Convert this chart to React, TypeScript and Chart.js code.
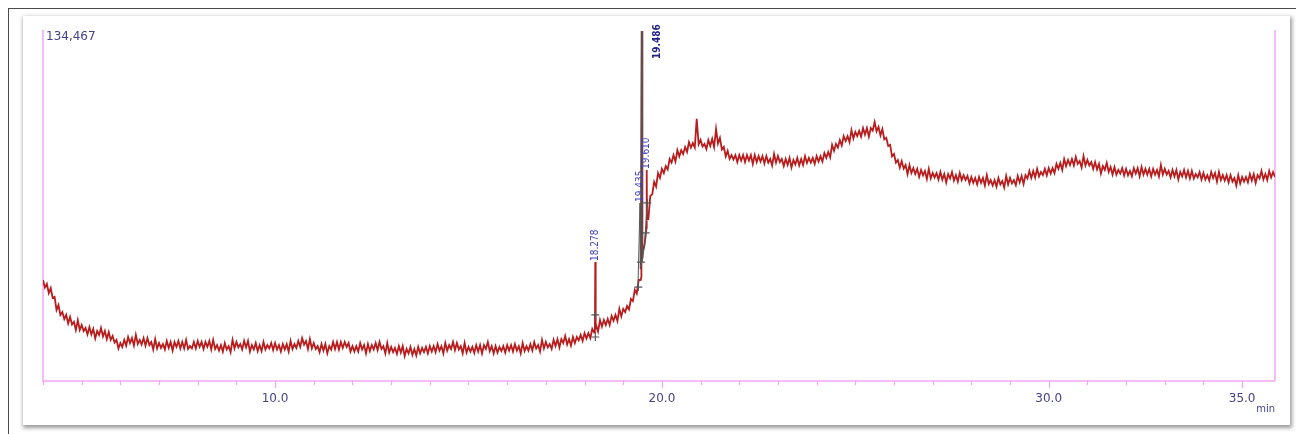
import React, { useEffect, useRef } from "react";
import { Chart, registerables } from "chart.js";

Chart.register(...registerables);

// ---- axis ranges ----
const X_MIN = 4.0;
const X_MAX = 35.85;
const Y_MIN = 0;
const Y_MAX = 134467;
const xTickValues = [4, 5, 6, 7, 8, 9, 10, 11, 12, 13, 14, 15, 16, 17, 18, 19, 20, 21, 22, 23, 24, 25, 26, 27, 28, 29, 30, 31, 32, 33, 34, 35];
const majorTickValues = [10, 20, 30, 35];
const xUnitLabel = "min";

// ---- detector trace, samples every 0.1 min from 4.00 min ----
const TRACE_START_MIN = 4.0;
const TRACE_STEP_MIN = 0.1;
const traceSignal = [
  // 4.0 - 5.9
  38800, 37300, 35700, 32300, 29200, 26500, 25400, 24600, 22700, 23400, 21500, 20400, 20700, 20000, 19200, 20400, 19200, 18800, 17300, 15800,
  // 6.0 - 7.9
  14600, 15800, 16900, 16500, 17700, 15800, 16500, 16500, 15000, 16100, 14600, 14200, 15400, 15000, 15000, 15400, 15000, 15800, 13400, 15000,
  // 8.0 - 9.9
  15400, 15000, 15000, 15400, 15800, 13800, 13800, 14600, 13400, 15800, 15000, 14200, 15400, 15400, 13800, 14600, 13800, 15000, 13800, 14600,
  // 10.0 - 11.9
  14600, 13800, 14200, 14200, 15400, 14200, 15400, 16500, 15400, 16100, 14600, 13400, 14200, 14200, 13400, 15000, 15000, 15000, 15000, 14600,
  // 12.0 - 13.9
  13400, 13400, 14600, 13800, 14200, 13800, 14600, 15000, 13400, 14600, 13100, 12700, 13400, 13400, 12300, 13100, 12300, 13100, 12700, 13100,
  // 14.0 - 15.9
  13400, 13400, 14200, 13400, 14600, 13800, 15000, 14600, 13400, 14600, 13100, 13100, 13800, 13800, 13800, 15000, 13400, 13400, 13100, 13400,
  // 16.0 - 17.9
  13800, 13800, 14200, 13400, 14600, 13400, 14200, 15000, 13800, 15800, 15000, 14200, 15800, 16100, 16100, 17300, 16100, 16900, 16900, 17700,
  // 18.0 - 19.4
  18400, 18400, 20000, 21500, 23400, 23400, 23800, 25000, 25400, 27700, 27700, 28800, 31500, 35000, 38800,
  // 19.5 - 19.9
  49600, 58800, 71100, 76500, 79900,
  // 20.0 - 21.9
  81500, 82600, 85300, 86800, 88700, 88700, 89900, 91800, 91400, 100700, 92600, 91100, 92600, 93000, 96800, 93400, 89900, 88400, 86800, 86800,
  // 22.0 - 23.9
  86800, 86800, 86800, 86800, 86800, 86400, 86400, 86400, 85300, 87200, 86400, 85300, 85300, 85700, 84900, 85700, 85300, 86400, 85700, 85700,
  // 24.0 - 25.9
  86400, 86400, 87600, 88000, 90700, 91100, 92600, 94100, 94100, 96400, 95700, 96100, 97200, 97200, 97200, 99500, 97600, 96800, 93400, 90700,
  // 26.0 - 27.9
  87200, 84900, 84500, 83000, 83000, 81800, 81500, 81100, 80700, 81500, 79900, 79900, 80300, 79500, 79500, 80300, 79100, 79900, 79100, 78800,
  // 28.0 - 29.9
  78400, 78000, 78400, 78000, 79100, 77200, 77200, 78000, 76800, 78800, 78000, 77200, 78800, 78800, 79100, 80700, 80700, 81500, 80300, 81500,
  // 30.0 - 31.9
  81800, 81800, 83400, 83800, 85300, 84900, 85300, 86100, 84500, 86400, 84900, 84100, 84100, 83400, 82600, 83800, 82200, 82200, 81100, 81800,
  // 32.0 - 33.9
  81500, 80700, 81800, 81800, 82200, 81500, 81500, 81500, 81100, 83000, 81500, 80700, 81100, 81100, 80300, 81100, 80700, 80700, 79500, 80300,
  // 34.0 - 35.8
  79900, 79100, 80300, 79900, 80300, 79100, 79100, 79100, 78000, 79100, 78400, 78400, 79500, 79500, 79100, 80700, 79500, 80700, 80300,
];

// ---- interleaved samples, every 0.1 min from 4.05 min ----
const TRACE_OFFSET_START_MIN = 4.05;
const traceSignalOffset = [
  // 4.05 - 5.95
  35900, 33800, 31900, 27300, 25400, 23800, 22100, 21700, 19600, 19600, 19200, 17900, 17900, 16300, 17700, 17100, 16100, 15800, 14800, 12500,
  // 6.05 - 7.95
  13100, 13600, 14600, 13600, 14200, 14000, 13600, 13800, 12100, 12500, 12700, 12100, 12700, 11700, 13100, 12500, 12500, 12300, 12500, 12500,
  // 8.05 - 9.95
  13100, 12300, 13100, 12100, 12300, 11700, 11300, 12100, 11100, 12500, 12900, 12100, 12900, 11300, 12100, 11500, 11500, 12100, 12500, 11900,
  // 10.05 - 11.95
  12100, 11300, 12100, 11300, 12300, 12700, 13100, 14000, 12300, 12500, 12300, 11100, 11700, 10600, 12100, 12300, 12100, 12700, 13100, 11300,
  // 12.05 - 13.95
  11300, 11300, 12100, 10600, 11500, 12100, 11900, 12300, 10600, 10900, 11100, 10400, 10900, 9600, 10600, 10000, 9800, 10600, 11100, 10600,
  // 14.05 - 15.95
  11300, 11100, 11700, 10600, 11700, 12300, 11900, 12100, 10600, 10900, 11300, 10800, 11300, 10600, 12300, 11500, 10600, 10900, 11500, 10900,
  // 16.05 - 17.95
  11700, 11300, 11700, 10600, 11500, 11700, 11700, 12500, 11300, 12500, 12900, 12300, 13400, 12900, 14600, 14000, 13600, 14600, 15600, 15400,
  // 18.05 - 19.45
  16300, 16500, 18600, 19000, 20900, 21500, 21500, 23200, 23100, 24800, 26500, 27500, 30700, 33600, 38800,
  // 19.55 - 19.95
  52100, 62200, 71700, 74700, 78000,
  // 20.05 - 21.95
  79900, 81300, 83900, 84300, 86300, 87200, 88000, 89700, 89700, 90900, 90100, 89100, 90300, 89900, 91200, 88900, 86300, 85300, 85100, 84100,
  // 22.05 - 23.95
  84700, 84100, 84700, 83400, 84100, 84300, 83600, 83900, 82800, 83900, 84100, 82600, 83000, 82000, 83200, 82800, 83000, 83800, 83900, 83400,
  // 24.05 - 25.95
  84300, 84300, 85700, 85900, 88400, 89700, 90500, 92200, 91800, 93200, 94100, 93900, 94700, 93900, 96200, 95900, 94300, 92800, 90300, 86300,
  // 26.05 - 27.95
  83900, 82000, 81600, 79500, 79900, 79500, 78400, 79000, 77600, 77800, 78200, 77400, 77400, 76300, 77800, 77000, 76600, 77200, 77200, 75900,
  // 28.05 - 29.95
  76100, 75500, 76100, 75100, 75700, 75100, 74700, 75500, 74300, 75500, 75900, 75300, 76300, 75700, 77800, 78000, 78200, 78600, 79100, 79000,
  // 30.05 - 31.95
  79700, 79900, 81500, 81100, 82600, 83000, 82800, 83400, 82000, 82800, 82800, 81500, 81300, 79700, 81100, 80300, 79300, 79300, 79700, 79000,
  // 32.05 - 33.95
  79000, 78600, 79700, 78600, 79300, 79300, 78600, 79300, 78600, 79300, 79300, 78200, 78600, 77400, 78600, 78200, 77800, 77800, 78200, 77400,
  // 34.05 - 35.85
  77400, 77000, 78000, 76600, 77200, 77000, 76300, 76600, 75100, 75900, 76600, 76300, 77000, 76100, 77800, 77400, 77200, 78200, 78400,
];

// ---- narrow peaks riding on the trace ----
const spikeTimes = [18.268, 18.278, 18.288, 19.47, 19.486, 19.492, 19.605, 19.61, 19.615];
const spikeSignal = [19000, 45700, 19800, 40000, 200000, 47000, 60000, 81100, 62000];

// ---- integrated peak outline (dark) ----
const overlayTimes = [19.38, 19.435, 19.445, 19.486, 19.49, 19.55, 19.62];
const overlaySignal = [35500, 68400, 43000, 200000, 46000, 52000, 68400];

// ---- peak start / end markers ----
const markerTimes = [18.278, 18.278, 19.39, 19.46, 19.58, 19.62];
const markerSignal = [25400, 16900, 36100, 45700, 56900, 68400];

// ---- peak labels ----
const peakTimes = [18.278, 19.435, 19.486, 19.61];
const peakApex = [45700, 68400, 200000, 81100];

const PINK = "#f3a6f3";
const NAVY = "#43438a";

function buildTrace() {
  const pts: { x: number; y: number }[] = [];
  traceSignal.forEach((v, i) =>
    pts.push({ x: Math.round((TRACE_START_MIN + i * TRACE_STEP_MIN) * 1000) / 1000, y: v })
  );
  traceSignalOffset.forEach((v, i) =>
    pts.push({ x: Math.round((TRACE_OFFSET_START_MIN + i * TRACE_STEP_MIN) * 1000) / 1000, y: v })
  );
  spikeTimes.forEach((t, i) => pts.push({ x: t, y: spikeSignal[i] }));
  pts.sort((a, b) => a.x - b.x);
  return pts;
}

const decorPlugin = {
  id: "decor",
  beforeDatasetsDraw(chart: any) {
    const { ctx, chartArea } = chart;
    const xs = chart.scales.x;
    const { left, right, top, bottom } = chartArea;
    ctx.save();
    ctx.strokeStyle = PINK;
    ctx.lineWidth = 1.5;
    ctx.beginPath();
    ctx.moveTo(left, top - 1);
    ctx.lineTo(left, bottom);
    ctx.lineTo(right, bottom);
    ctx.moveTo(right, top - 1);
    ctx.lineTo(right, bottom);
    ctx.stroke();
    ctx.lineWidth = 1.2;
    xs.ticks.forEach((tk: any) => {
      const v = tk.value;
      const px = Math.round(xs.getPixelForValue(v)) + 0.5;
      const len = majorTickValues.includes(v) ? 7 : 4;
      ctx.beginPath();
      ctx.moveTo(px, bottom);
      ctx.lineTo(px, bottom + len);
      ctx.stroke();
    });
    ctx.restore();
  },
  afterDatasetsDraw(chart: any) {
    const { ctx, chartArea } = chart;
    const xs = chart.scales.x;
    const ys = chart.scales.y;
    ctx.save();
    ctx.fillStyle = NAVY;
    ctx.font = '12px "DejaVu Sans", sans-serif';
    ctx.textAlign = "left";
    ctx.textBaseline = "middle";
    ctx.fillText(ys.max.toLocaleString("en-US"), chartArea.left + 3, chartArea.top + 6);
    ctx.font = '10px "DejaVu Sans", sans-serif';
    ctx.textAlign = "right";
    ctx.fillText(xUnitLabel, chartArea.right, chartArea.bottom + 28);
    peakTimes.forEach((t, i) => {
      const clipped = peakApex[i] >= ys.max;
      let x = xs.getPixelForValue(t);
      let y: number;
      if (clipped) {
        x += 15;
        y = chartArea.top + 28;
        ctx.font = 'bold 10px "DejaVu Sans Condensed", "DejaVu Sans", sans-serif';
        ctx.fillStyle = "#1f1f86";
      } else {
        y = ys.getPixelForValue(peakApex[i]) - 1;
        ctx.font = '10px "DejaVu Sans Condensed", "DejaVu Sans", sans-serif';
        ctx.fillStyle = "#3c3cc8";
      }
      ctx.save();
      ctx.translate(x, y);
      ctx.rotate(-Math.PI / 2);
      ctx.textAlign = "left";
      ctx.textBaseline = "middle";
      ctx.fillText(t.toFixed(3), 0, 0);
      ctx.restore();
    });
    ctx.restore();
  },
};

export default function App() {
  const ref = useRef<HTMLCanvasElement | null>(null);
  useEffect(() => {
    if (!ref.current) return;
    const chart = new Chart(ref.current, {
      type: "line",
      data: {
        datasets: [
          {
            label: "markers",
            data: markerTimes.map((t, i) => ({ x: t, y: markerSignal[i] })),
            showLine: false,
            pointStyle: "cross",
            pointRadius: 4,
            pointBorderColor: "#555",
            pointBorderWidth: 1.2,
            order: 0,
          },
          {
            label: "peak",
            data: overlayTimes.map((t, i) => ({ x: t, y: overlaySignal[i] })),
            borderColor: "#555555",
            borderWidth: 1,
            pointRadius: 0,
            tension: 0,
            order: 1,
          },
          {
            label: "signal",
            data: buildTrace(),
            borderColor: "#b81c1c",
            borderWidth: 1.8,
            pointRadius: 0,
            tension: 0,
            order: 2,
          },
        ],
      },
      options: {
        animation: false,
        responsive: true,
        maintainAspectRatio: false,
        layout: { padding: { left: 43, right: 21, top: 31, bottom: 0 } },
        plugins: { legend: { display: false }, tooltip: { enabled: false } },
        scales: {
          x: {
            type: "linear",
            min: X_MIN,
            max: X_MAX,
            grid: { display: false },
            border: { display: false },
            afterFit: (scale: any) => {
              scale.height = 53;
            },
            afterBuildTicks: (scale: any) => {
              scale.ticks = xTickValues.map((v) => ({ value: v }));
            },
            ticks: {
              autoSkip: false,
              maxRotation: 0,
              padding: 3,
              color: NAVY,
              font: { family: '"DejaVu Sans", sans-serif', size: 12 },
              callback: (v: any) => (majorTickValues.includes(Number(v)) ? Number(v).toFixed(1) : ""),
            },
          },
          y: {
            type: "linear",
            min: Y_MIN,
            max: Y_MAX,
            display: false,
          },
        },
      },
      plugins: [decorPlugin],
    });
    return () => chart.destroy();
  }, []);

  return (
    <div style={{ position: "fixed", left: 0, top: 0, width: 1296, height: 434, overflow: "hidden", background: "#fff" }}>
      <div
        style={{
          position: "absolute",
          left: 8,
          top: 8,
          width: 1400,
          height: 500,
          borderLeft: "1px solid #4a4a4a",
          borderTop: "1px solid #4a4a4a",
        }}
      />
      <div
        style={{
          position: "absolute",
          left: 23,
          top: 16,
          width: 1267,
          height: 409,
          background: "#fff",
          boxShadow: "1px 2px 4px 1px rgba(0,0,0,0.4)",
        }}
      />
      <div style={{ position: "absolute", left: 0, top: 0, width: 1296, height: 434 }}>
        <canvas ref={ref} />
      </div>
    </div>
  );
}
